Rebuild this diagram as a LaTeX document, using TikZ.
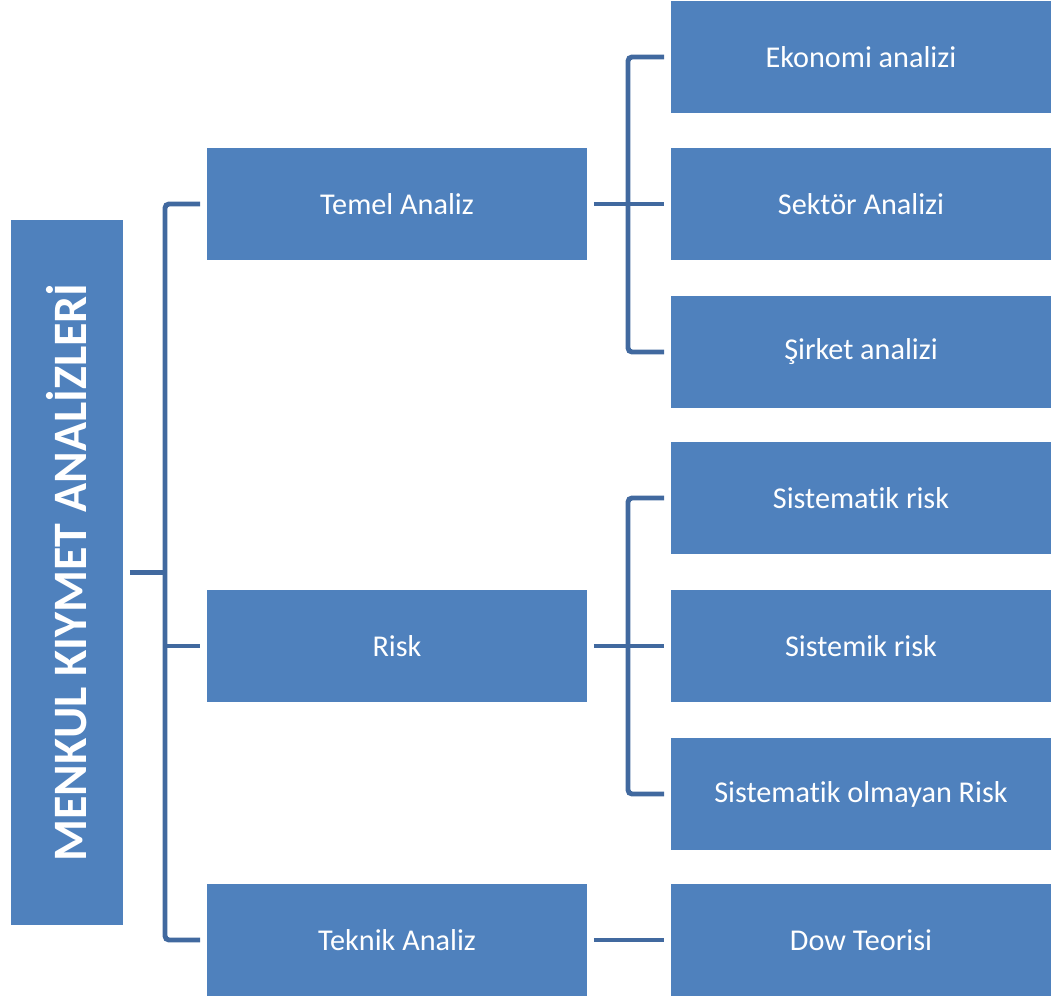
\documentclass[tikz,border=0pt]{standalone}
\usepackage{fontspec}
\setmainfont{Carlito}[Ligatures=NoCommon]
\usetikzlibrary{positioning}

\definecolor{boxblue}{HTML}{4F81BD}
\definecolor{lineblue}{HTML}{41699F}

\tikzset{
  box/.style={rectangle, fill=boxblue, text=white, inner sep=0pt,
    minimum width=7.6cm, minimum height=2.24cm, font=\fontsize{17.2}{20}\selectfont},
  rootbox/.style={rectangle, fill=boxblue, text=white, inner sep=0pt,
    minimum width=2.24cm, minimum height=14.1cm},
  link/.style={draw=lineblue, line width=2.8pt, rounded corners=0.08cm,
    shorten <=0.13cm, shorten >=0.13cm}
}

\begin{document}
\begin{tikzpicture}[x=0.02cm, y=-0.02cm]
  \useasboundingbox (0,0) rectangle (1058,999);

  % root
  \node[rootbox] (root) at (67,572.5) {};
  \node[rotate=90, text=white, font=\fontsize{27.3}{30}\selectfont\bfseries] (roottext) at (root.center) {MENKUL KIYMET ANALİZLERİ};

  % first level
  \node[box] (temel)  at (397,204) {Temel Analiz};
  \node[box] (risk)   at (397,646) {Risk};
  \node[box] (teknik) at (397,940) {Teknik Analiz};

  % second level
  \node[box] (ekonomi)    at (861,57)  {Ekonomi analizi};
  \node[box] (sektor)     at (861,204) {Sektör Analizi};
  \node[box] (sirket)     at (861,352) {Şirket analizi};
  \node[box] (sistematik) at (861,498) {Sistematik risk};
  \node[box] (sistemik)   at (861,646) {Sistemik risk};
  \node[box] (olmayan)    at (861,794) {Sistematik olmayan Risk};
  \node[box] (dow)        at (861,940) {Dow Teorisi};

  % junctions
  \coordinate (j1) at (165,572.5);
  \coordinate (j2) at (628,204);
  \coordinate (j3) at (628,646);

  \draw[link, shorten >=0pt] (root.east) -- (j1);
  \draw[link] (temel.west) -| (j1) |- (teknik.west);
  \draw[link, shorten <=0pt] (j1 |- risk.west) -- (risk.west);

  \draw[link] (ekonomi.west) -| (j2) |- (sirket.west);
  \draw[link] (temel.east) -- (sektor.west);

  \draw[link] (sistematik.west) -| (j3) |- (olmayan.west);
  \draw[link] (risk.east) -- (sistemik.west);

  \draw[link] (teknik.east) -- (dow.west);
\end{tikzpicture}
\end{document}
